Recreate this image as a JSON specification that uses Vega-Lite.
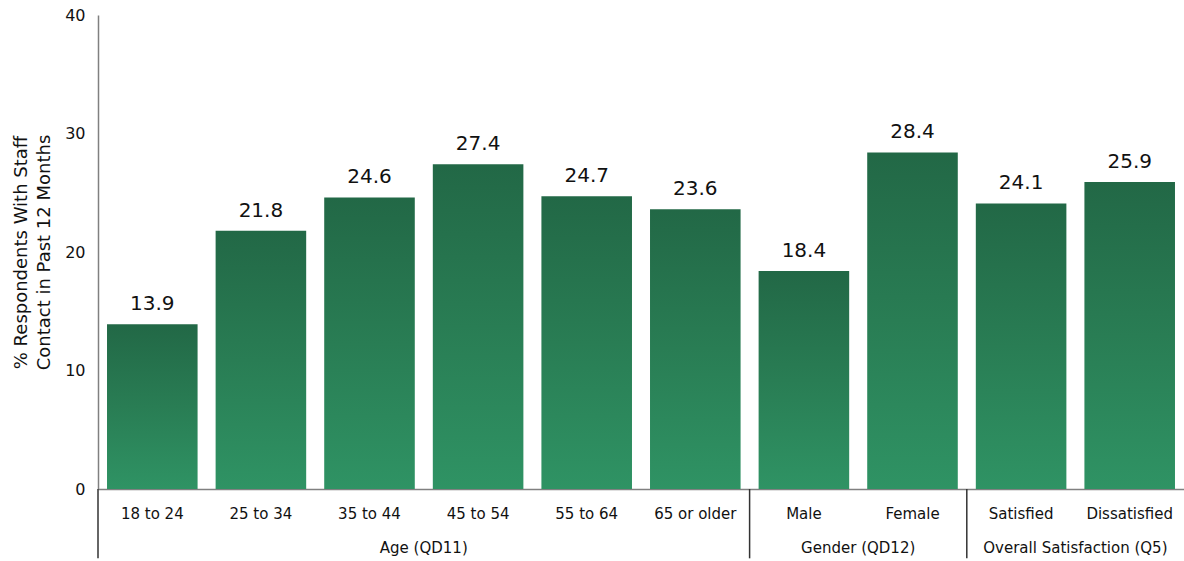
{
  "$schema": "https://vega.github.io/schema/vega-lite/v6.json",
  "width": 1086,
  "height": 474,
  "autosize": {"type": "none"},
  "padding": {"left": 98, "top": 15, "right": 0, "bottom": 72},
  "background": "white",
  "config": {
    "view": {"stroke": null},
    "font": "DejaVu Sans",
    "text": {"font": "DejaVu Sans"}
  },
  "datasets": {
    "bars": [
      {"category": "18 to 24", "group": "Age (QD11)", "value": 13.9},
      {"category": "25 to 34", "group": "Age (QD11)", "value": 21.8},
      {"category": "35 to 44", "group": "Age (QD11)", "value": 24.6},
      {"category": "45 to 54", "group": "Age (QD11)", "value": 27.4},
      {"category": "55 to 64", "group": "Age (QD11)", "value": 24.7},
      {"category": "65 or older", "group": "Age (QD11)", "value": 23.6},
      {"category": "Male", "group": "Gender (QD12)", "value": 18.4},
      {"category": "Female", "group": "Gender (QD12)", "value": 28.4},
      {"category": "Satisfied", "group": "Overall Satisfaction (Q5)", "value": 24.1},
      {"category": "Dissatisfied", "group": "Overall Satisfaction (Q5)", "value": 25.9}
    ],
    "groups": [
      {"group": "Age (QD11)", "first": "18 to 24", "middle": "45 to 54"},
      {"group": "Gender (QD12)", "first": "Male", "middle": "Female"},
      {"group": "Overall Satisfaction (Q5)", "first": "Satisfied", "middle": "Dissatisfied"}
    ]
  },
  "layer": [
    {
      "data": {"name": "bars"},
      "mark": {
        "type": "bar",
        "width": {"band": 0.834},
        "color": {
          "gradient": "linear",
          "x1": 0, "y1": 0, "x2": 0, "y2": 1,
          "stops": [
            {"offset": 0, "color": "#226846"},
            {"offset": 0.5, "color": "#297d54"},
            {"offset": 1, "color": "#2f9364"}
          ]
        }
      },
      "encoding": {
        "x": {
          "field": "category",
          "type": "nominal",
          "sort": null,
          "scale": {"paddingInner": 0, "paddingOuter": 0},
          "axis": {
            "title": null,
            "labelAngle": 0,
            "ticks": false,
            "labelPadding": 17,
            "labelFontSize": 15,
            "labelColor": "#111",
            "labelFont": "DejaVu Sans",
            "domainColor": "#808080",
            "domainWidth": 1.5
          }
        },
        "y": {
          "field": "value",
          "type": "quantitative",
          "scale": {"domain": [0, 40]},
          "axis": {
            "values": [0, 10, 20, 30, 40],
            "grid": false,
            "ticks": false,
            "labelPadding": 13,
            "labelFontSize": 16,
            "labelColor": "#111",
            "labelFont": "DejaVu Sans",
            "domainColor": "#808080",
            "domainWidth": 1.5,
            "title": ["% Respondents With Staff", "Contact in Past 12 Months"],
            "titleFont": "DejaVu Sans",
            "titleFontSize": 18,
            "titleFontWeight": "normal",
            "titleColor": "#111",
            "titlePadding": 11,
            "titleLineHeight": 23
          }
        }
      }
    },
    {
      "data": {"name": "bars"},
      "mark": {"type": "text", "baseline": "alphabetic", "dy": -14, "fontSize": 20, "color": "#111", "font": "DejaVu Sans"},
      "encoding": {
        "x": {"field": "category", "type": "nominal", "sort": null},
        "y": {"field": "value", "type": "quantitative"},
        "text": {"field": "value", "type": "quantitative", "format": ".1f"}
      }
    },
    {
      "data": {"name": "groups"},
      "mark": {"type": "rule", "color": "#333", "strokeWidth": 1.5, "clip": false},
      "encoding": {
        "x": {"field": "first", "type": "nominal", "sort": null, "bandPosition": 0},
        "y": {"datum": 0},
        "y2": {"datum": -5.85}
      }
    },
    {
      "data": {"name": "groups"},
      "mark": {"type": "text", "baseline": "middle", "fontSize": 15, "color": "#111", "font": "DejaVu Sans", "clip": false},
      "encoding": {
        "x": {"field": "middle", "type": "nominal", "sort": null, "bandPosition": 0},
        "y": {"datum": -5},
        "text": {"field": "group", "type": "nominal"}
      }
    }
  ]
}
